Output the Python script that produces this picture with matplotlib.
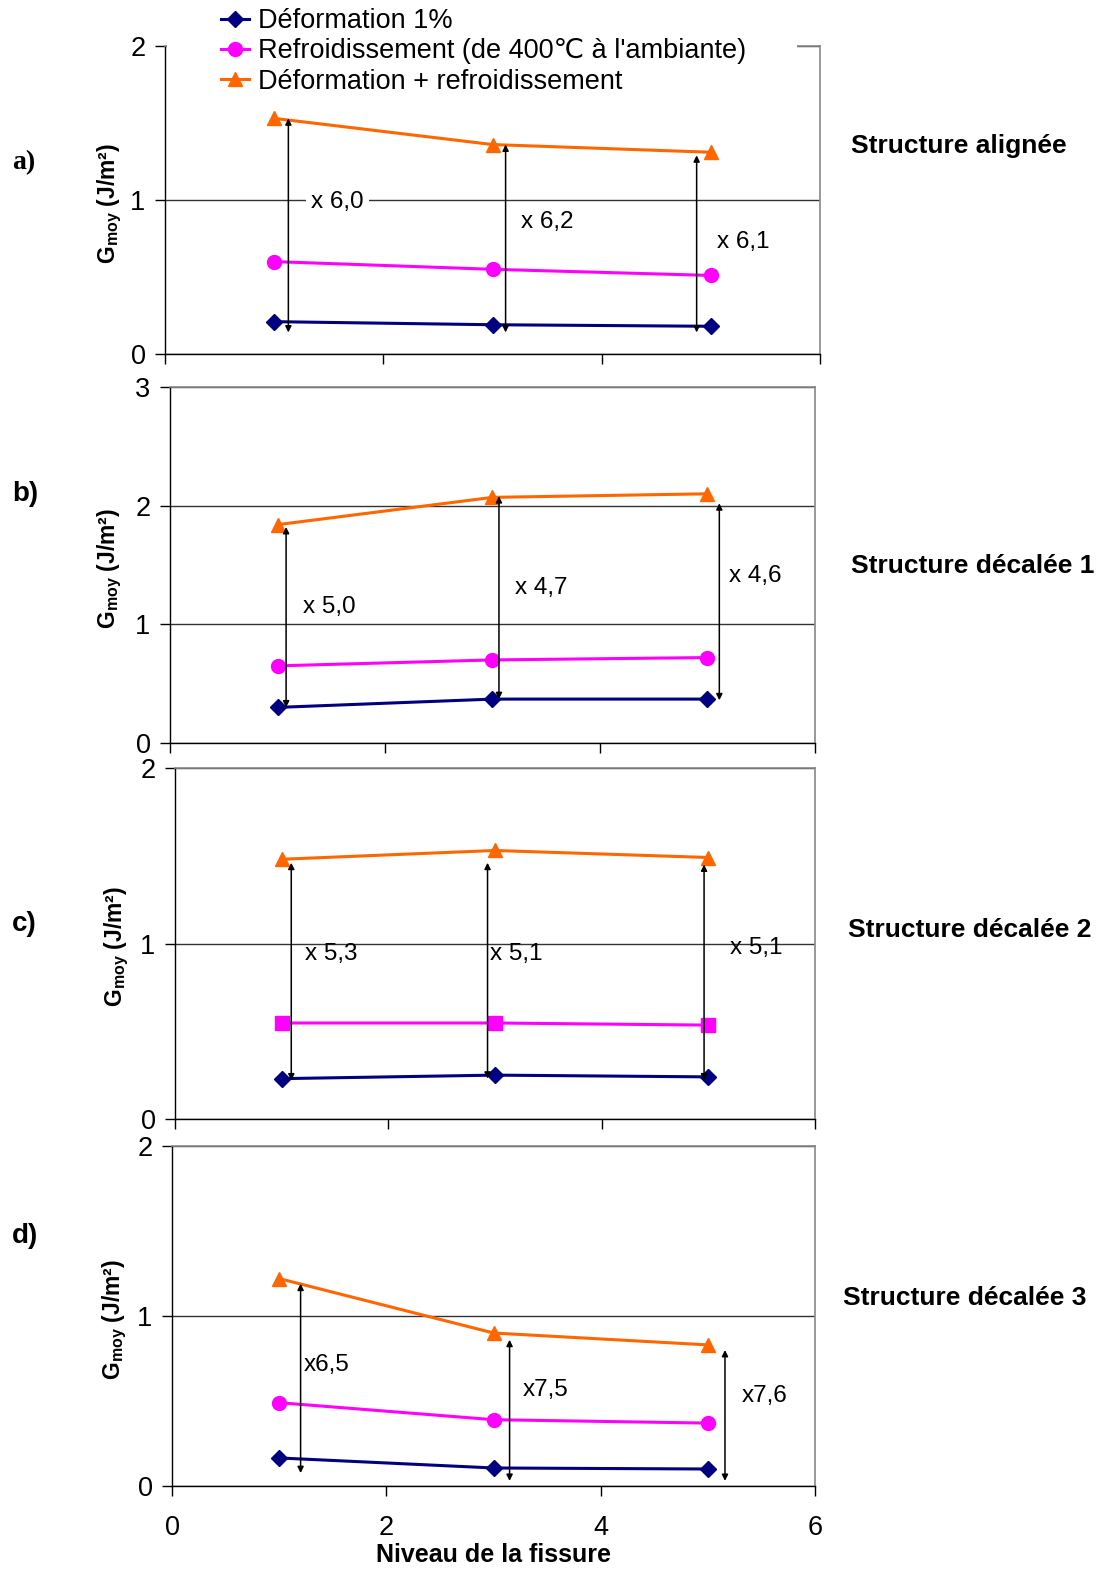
import matplotlib
matplotlib.use("Agg")
import matplotlib.pyplot as plt
from matplotlib.patches import Rectangle
from matplotlib.lines import Line2D

plt.rcParams['font.family'] = ['Liberation Sans', 'DejaVu Sans']
plt.rcParams['mathtext.fontset'] = 'custom'
plt.rcParams['mathtext.rm'] = 'Liberation Sans'
plt.rcParams['mathtext.bf'] = 'Liberation Sans:bold'

# ---------------- data ----------------
niveau = [1, 3, 5]
series_names = ["Déformation 1%",
                "Refroidissement (de 400℃ à l'ambiante)",
                "Déformation + refroidissement"]

panel_letters = ["a)", "b)", "c)", "d)"]
panel_titles = ["Structure alignée", "Structure décalée 1",
                "Structure décalée 2", "Structure décalée 3"]
ymax = [2, 3, 2, 2]

deformation = [[0.21, 0.19, 0.18],
               [0.30, 0.37, 0.37],
               [0.23, 0.25, 0.24],
               [0.165, 0.106, 0.10]]
refroid = [[0.60, 0.55, 0.51],
           [0.65, 0.70, 0.72],
           [0.547, 0.547, 0.535],
           [0.49, 0.39, 0.37]]
deform_refroid = [[1.53, 1.36, 1.31],
                  [1.84, 2.07, 2.10],
                  [1.48, 1.53, 1.49],
                  [1.22, 0.90, 0.83]]

ratio_labels = [["x 6,0", "x 6,2", "x 6,1"],
                ["x 5,0", "x 4,7", "x 4,6"],
                ["x 5,3", "x 5,1", "x 5,1"],
                ["x6,5", "x7,5", "x7,6"]]
arrow_x = [[1.13, 3.12, 4.87],
           [1.08, 3.06, 5.11],
           [1.09, 2.93, 4.96],
           [1.20, 3.15, 5.16]]
arrow_top = [[1.53, 1.36, 1.29],
             [1.82, 2.08, 2.02],
             [1.46, 1.46, 1.45],
             [1.19, 0.86, 0.80]]
arrow_bottom = [[0.14, 0.14, 0.14],
                [0.30, 0.37, 0.36],
                [0.22, 0.23, 0.22],
                [0.076, 0.03, 0.03]]
label_x = [[1.34, 3.26, 5.06],
           [1.24, 3.21, 5.20],
           [1.22, 2.95, 5.20],
           [1.23, 3.27, 5.32]]
label_y = [[0.987, 0.857, 0.727],
           [1.146, 1.306, 1.407],
           [0.94, 0.94, 0.974],
           [0.712, 0.565, 0.529]]
label_bg = [[True, False, False],
            [False, False, False],
            [False, False, False],
            [False, False, False]]

# ---------------- layout ----------------
W, H = 1108, 1571
fig = plt.figure(figsize=(W / 100, H / 100), dpi=100)

# axes boxes in pixels: left, top, right, bottom
boxes = [(165, 46, 820, 354), (170, 387, 815, 743),
         (175, 768, 815, 1119), (172, 1146, 815, 1486)]
ylab_x = [110, 110, 117, 115]
letter_y = [163, 494, 924, 1236]
title_pos = [(851, 146), (851, 566), (848, 930), (843, 1298)]

col_def = '#000080'
col_ref = '#FF00FF'
col_dr = '#FF6600'

for i in range(4):
    l, t, r, b = boxes[i]
    ax = fig.add_axes([l / W, 1 - b / H, (r - l) / W, (b - t) / H])
    ax.set_xlim(0, 6)
    ax.set_ylim(0, ymax[i])
    ax.set_yticks(range(0, ymax[i] + 1))
    ax.set_xticks([0, 2, 4, 6])
    ax.yaxis.grid(True, color='#333333', lw=1.0)
    ax.set_axisbelow(True)
    for s in ['top', 'right']:
        ax.spines[s].set_color('#888888')
        ax.spines[s].set_linewidth(1.2)
    for s in ['left', 'bottom']:
        ax.spines[s].set_color('black')
        ax.spines[s].set_linewidth(1.0)
    ax.tick_params(axis='both', direction='out', length=7, width=1,
                   labelsize=19.5, colors='black')
    ax.tick_params(axis='y', pad=7)
    ax.tick_params(axis='x', pad=14)
    if i < 3:
        ax.set_xticklabels([])
    else:
        ax.set_xlabel("Niveau de la fissure", fontsize=18,
                      fontweight='bold', labelpad=1)

    ax.plot(niveau, deformation[i], color=col_def, lw=2.2, marker='D',
            ms=8.5, zorder=3, clip_on=False)
    ax.plot(niveau, refroid[i], color=col_ref, lw=2.2,
            marker='s' if i == 2 else 'o', ms=10 if i != 2 else 9.5,
            zorder=3, clip_on=False)
    ax.plot(niveau, deform_refroid[i], color=col_dr, lw=2.2, marker='^',
            ms=10.5, zorder=3, clip_on=False)

    for j in range(3):
        ax.annotate("", xy=(arrow_x[i][j], arrow_top[i][j]),
                    xytext=(arrow_x[i][j], arrow_bottom[i][j]),
                    arrowprops=dict(arrowstyle='<|-|>', color='black',
                                    lw=1.1, mutation_scale=9,
                                    shrinkA=0, shrinkB=0),
                    zorder=4)
        kw = {}
        if label_bg[i][j]:
            kw['bbox'] = dict(facecolor='white', edgecolor='none', pad=4)
        ax.text(label_x[i][j], label_y[i][j], ratio_labels[i][j],
                fontsize=17.5, ha='left', va='center', zorder=2.5, **kw)

    fig.text(ylab_x[i] / W, 1 - ((t + b) / 2 + 3) / H,
             r"$\mathbf{G}_{\mathbf{moy}}$ (J/m²)", rotation=90,
             fontsize=16.5, fontweight='bold', ha='center', va='center')
    fam = ['Liberation Serif', 'DejaVu Serif'] if i == 0 else ['Liberation Sans', 'DejaVu Sans']
    fig.text(12 / W, 1 - letter_y[i] / H, panel_letters[i], fontsize=20,
             fontweight='bold', ha='left', va='center', family=fam)
    fig.text(title_pos[i][0] / W, 1 - title_pos[i][1] / H, panel_titles[i],
             fontsize=19, fontweight='bold', ha='left', va='center')

# white legend area covering top frame of panel a
fig.patches.append(Rectangle((167 / W, 1 - 95 / H), (797 - 167) / W, 95 / H,
                             transform=fig.transFigure, facecolor='white',
                             edgecolor='none', zorder=4))

handles = [Line2D([], [], color=col_def, lw=2.2, marker='D', ms=8.5),
           Line2D([], [], color=col_ref, lw=2.2, marker='o', ms=10),
           Line2D([], [], color=col_dr, lw=2.2, marker='^', ms=10.5)]
leg = fig.legend(handles, series_names, loc='upper left',
                 bbox_to_anchor=(221 / W, 1 - 8 / H), frameon=False,
                 fontsize=19.5, handlelength=1.05, handletextpad=0.3,
                 labelspacing=0.16, borderpad=0, borderaxespad=0)
leg.set_zorder(5)

fig.savefig("out.png", dpi=100, facecolor='white')
